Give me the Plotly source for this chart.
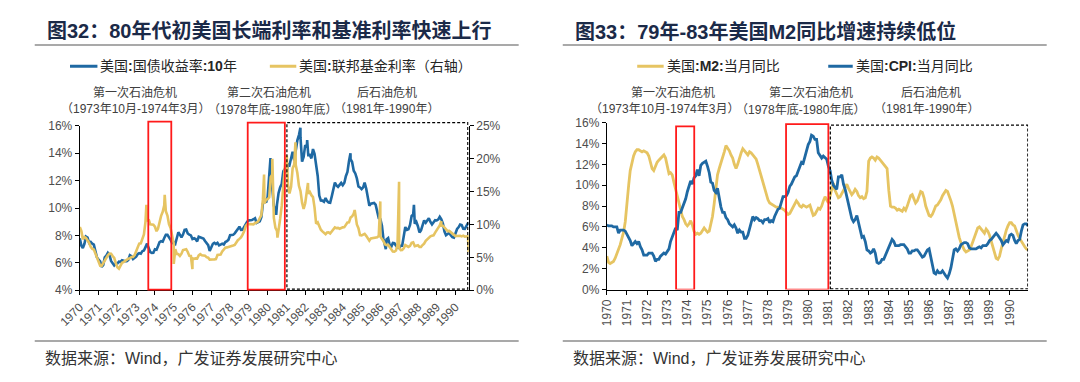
import pandas as pd
import plotly.graph_objects as go

W, H = 1080, 382


def px(x):
    return x / W


def py(y):
    return 1 - y / H


# ---------------- DATA ----------------
# Left chart: monthly values, 1970-01 .. 1990-09
UST10Y = [
    7.79, 7.24, 7.07, 7.39, 7.91, 7.84, 7.46, 7.53, 7.39, 7.33, 6.84, 6.39,
    6.24, 6.11, 5.70, 5.83, 6.39, 6.52, 6.73, 6.58, 6.14, 5.93, 5.81, 5.93,
    5.95, 6.08, 6.07, 6.19, 6.13, 6.11, 6.11, 6.21, 6.55, 6.48, 6.28, 6.36,
    6.46, 6.64, 6.71, 6.67, 6.85, 6.90, 7.13, 7.40, 7.09, 6.79, 6.73, 6.74,
    6.99, 6.96, 7.21, 7.51, 7.58, 7.54, 7.81, 8.04, 8.04, 7.90, 7.68, 7.43,
    7.50, 7.39, 7.73, 8.23, 8.06, 7.86, 8.06, 8.40, 8.43, 8.14, 8.05, 8.00,
    7.74, 7.79, 7.73, 7.56, 7.90, 7.86, 7.83, 7.77, 7.59, 7.41, 7.29, 6.87,
    7.21, 7.39, 7.46, 7.37, 7.46, 7.28, 7.33, 7.40, 7.34, 7.52, 7.58, 7.69,
    8.01, 8.03, 8.04, 8.15, 8.35, 8.46, 8.64, 8.41, 8.42, 8.64, 8.81, 9.01,
    9.10, 9.10, 9.12, 9.18, 9.25, 8.91, 8.95, 9.03, 9.33, 10.30, 10.65, 10.39,
    10.80, 12.41, 12.75, 11.47, 10.18, 9.78, 10.25, 11.10, 11.51, 11.75, 12.68, 12.84,
    12.57, 13.19, 13.12, 13.68, 14.10, 13.47, 14.28, 14.94, 15.32, 15.15, 13.39, 13.72,
    14.59, 14.43, 13.86, 13.87, 13.62, 14.30, 13.95, 13.06, 12.34, 10.91, 10.55, 10.54,
    10.46, 10.72, 10.51, 10.40, 10.38, 10.85, 11.38, 11.85, 11.65, 11.54, 11.69, 11.83,
    11.67, 11.84, 12.32, 12.63, 13.41, 13.56, 13.36, 12.72, 12.52, 12.16, 11.57, 11.50,
    11.38, 11.51, 11.86, 11.43, 10.85, 10.16, 10.31, 10.33, 10.37, 10.24, 9.78, 9.26,
    9.19, 8.70, 7.78, 7.30, 7.71, 7.80, 7.30, 7.17, 7.45, 7.43, 7.25, 7.11,
    7.08, 7.25, 7.25, 8.02, 8.61, 8.40, 8.45, 8.76, 9.42, 9.52, 8.86, 8.99,
    8.67, 8.21, 8.37, 8.72, 9.09, 8.92, 9.06, 9.26, 8.98, 8.80, 8.96, 9.11,
    9.09, 9.17, 9.36, 9.18, 8.86, 8.28, 8.02, 8.11, 8.19, 8.01, 7.87, 7.84,
    8.21, 8.47, 8.59, 8.79, 8.76, 8.48, 8.47, 8.75, 8.89,
]
UST10Y_EXTRA_DATES = ["1980-02-26", "1980-06-16", "1981-09-30", "1982-02-08",
                      "1984-05-30", "1986-04-17", "1987-10-16", "1990-09-14"]
UST10Y_EXTRA_VALUES = [13.65, 9.5, 15.85, 14.95, 13.99, 7.0, 10.23, 8.9]

FEDFUNDS = [
    9.6, 8.98, 7.76, 8.10, 7.95, 7.61, 7.21, 6.61, 6.29, 6.20, 5.60, 4.90,
    4.14, 3.72, 3.71, 4.16, 4.63, 4.91, 5.31, 5.56, 5.55, 5.20, 4.91, 4.14,
    3.50, 3.29, 3.83, 4.17, 4.27, 4.46, 4.55, 4.80, 4.87, 5.04, 5.06, 5.33,
    5.94, 6.58, 7.09, 7.12, 7.84, 8.49, 10.40, 10.50, 10.78, 10.01, 10.03, 9.95,
    9.65, 8.97, 9.35, 10.51, 11.31, 11.93, 12.92, 12.01, 11.34, 10.06, 9.45, 8.53,
    7.13, 6.24, 5.54, 5.49, 5.22, 5.55, 6.10, 6.14, 6.24, 5.82, 5.22, 5.20,
    4.87, 4.77, 4.84, 4.82, 5.29, 5.48, 5.31, 5.29, 5.25, 5.02, 4.95, 4.65,
    4.61, 4.68, 4.69, 4.73, 5.35, 5.39, 5.42, 5.90, 6.14, 6.47, 6.51, 6.56,
    6.70, 6.78, 6.79, 6.89, 7.36, 7.60, 7.81, 8.04, 8.45, 8.96, 9.76, 10.03,
    10.07, 10.06, 10.09, 10.01, 10.24, 10.29, 10.47, 10.94, 11.43, 13.77, 13.18, 13.78,
    13.82, 14.13, 17.19, 17.61, 10.98, 9.47, 9.03, 9.61, 10.87, 12.81, 15.85, 18.90,
    19.08, 15.93, 14.70, 15.72, 18.52, 19.10, 19.04, 17.82, 15.87, 15.08, 13.31, 12.37,
    13.22, 14.78, 14.68, 14.94, 14.45, 14.15, 12.59, 10.12, 10.31, 9.71, 9.20, 8.95,
    8.68, 8.51, 8.77, 8.80, 8.63, 8.98, 9.37, 9.56, 9.45, 9.48, 9.34, 9.47,
    9.56, 9.59, 9.91, 10.29, 10.32, 11.06, 11.23, 11.64, 11.30, 9.99, 9.43, 8.38,
    8.35, 8.50, 8.58, 8.27, 7.97, 7.53, 7.88, 7.90, 7.92, 7.99, 8.05, 8.27,
    8.14, 7.86, 7.48, 6.99, 6.85, 6.92, 6.56, 6.17, 5.89, 5.85, 6.04, 6.91,
    6.43, 6.10, 6.13, 6.37, 6.85, 6.73, 6.58, 6.73, 7.22, 7.29, 6.69, 6.77,
    6.83, 6.58, 6.58, 6.87, 7.09, 7.51, 7.75, 8.01, 8.19, 8.30, 8.35, 8.76,
    9.12, 9.36, 9.85, 9.84, 9.81, 9.53, 9.24, 8.99, 9.02, 8.84, 8.55, 8.45,
    8.23, 8.24, 8.28, 8.26, 8.18, 8.29, 8.15, 8.13, 8.20,
]
FF_EXTRA_DATES = ["1973-07-19", "1974-07-10", "1975-01-02", "1975-12-31",
                  "1979-10-24", "1980-04-02", "1980-07-10", "1980-12-10",
                  "1981-01-07", "1981-06-25", "1982-02-24", "1984-08-20",
                  "1985-12-31", "1986-12-31", "1989-03-31", "1990-09-14"]
FF_EXTRA_VALUES = [13.0, 14.5, 4.0, 3.2, 17.6, 20.0, 8.0, 19.6,
                   20.5, 22.5, 16.3, 12.2, 13.5, 16.5, 10.5, 5.8]

# Right chart: monthly YoY, 1970-01 .. 1990-12
M2_YOY = [
    3.2, 2.6, 2.5, 2.6, 2.7, 3.0, 3.4, 3.8, 4.3, 4.9, 5.5, 6.5,
    8.5, 10.0, 11.4, 12.3, 12.8, 13.2, 13.4, 13.4, 13.3, 13.2, 13.3, 13.2,
    13.1, 12.8, 12.2, 11.6, 11.4, 11.8, 12.2, 12.4, 12.6, 12.8, 12.9, 12.6,
    11.8, 11.1, 11.2, 11.0, 10.3, 9.6, 8.9, 8.2, 7.6, 7.0, 6.7, 6.3,
    6.1, 6.3, 6.6, 6.2, 5.6, 5.3, 5.4, 5.3, 5.4, 5.6, 5.9, 5.7,
    5.5, 5.6, 6.2, 7.0, 8.2, 9.8, 11.0, 11.6, 12.1, 12.5, 13.2, 13.8,
    13.6, 13.3, 12.9, 12.6, 12.0, 11.6, 12.0, 12.7, 13.1, 13.5, 13.3, 13.0,
    12.9, 13.2, 13.1, 12.9, 12.7, 12.5, 12.0, 11.4, 10.8, 10.2, 9.6, 9.0,
    8.6, 8.3, 8.2, 8.1, 8.0, 7.9, 7.9, 7.8, 7.8, 7.7, 7.6, 7.4,
    7.2, 7.3, 7.6, 7.9, 8.2, 8.5, 8.3, 8.0, 7.9, 8.1, 8.0, 7.9,
    8.0, 8.1, 7.6, 7.1, 7.2, 7.5, 7.8, 7.7, 8.0, 8.5, 8.9, 8.6,
    8.3, 9.0, 9.7, 10.2, 9.5, 9.2, 8.8, 8.9, 9.2, 9.4, 9.8, 10.1,
    9.7, 9.4, 9.1, 9.3, 9.6, 9.4, 9.0, 8.8, 8.9, 8.7, 8.8, 9.4,
    12.3, 12.6, 12.7, 12.6, 12.4, 12.7, 12.6, 12.4, 12.2, 12.0, 11.9, 11.6,
    9.5, 8.0, 7.9, 7.9, 7.8, 7.6, 7.7, 7.6, 7.5, 7.8, 7.6, 8.0,
    8.6, 9.0, 9.1, 8.6, 8.3, 8.5, 9.0, 9.4, 9.3, 8.8, 8.0, 7.5,
    7.1, 7.0, 7.2, 7.6, 8.0, 8.1, 8.3, 8.6, 9.0, 9.3, 9.5, 9.4,
    9.0, 8.5, 8.0, 7.2, 6.4, 5.8, 5.0, 4.5, 4.1, 3.8, 3.6, 3.7,
    3.8, 4.1, 4.5, 5.0, 5.5, 5.9, 6.0, 5.8, 5.5, 5.4, 5.8, 5.6,
    5.2, 4.6, 4.0, 3.4, 3.0, 2.9, 3.2, 3.9, 4.6, 5.2, 5.7, 6.1,
    6.4, 6.4, 6.2, 6.1, 5.6, 5.2, 4.9, 4.6, 4.4, 4.1, 3.9, 3.8,
]
CPI_YOY = [
    6.2, 6.1, 6.1, 6.1, 6.0, 6.0, 6.0, 5.4, 5.7, 5.7, 5.7, 5.6,
    5.3, 5.0, 4.7, 4.2, 4.4, 4.6, 4.4, 4.6, 4.1, 3.8, 3.3, 3.3,
    3.3, 3.5, 3.5, 3.5, 3.2, 2.7, 2.9, 2.9, 3.2, 3.4, 3.5, 3.4,
    3.6, 3.9, 4.6, 5.1, 5.5, 5.9, 5.7, 7.4, 7.4, 7.8, 8.3, 8.7,
    9.4, 10.0, 10.4, 10.1, 10.7, 10.9, 11.5, 10.9, 11.9, 12.1, 12.2, 12.3,
    11.8, 11.2, 10.3, 10.2, 9.5, 9.3, 9.7, 8.6, 7.9, 7.4, 7.4, 6.9,
    6.7, 6.3, 6.1, 6.0, 6.2, 5.9, 5.4, 5.7, 5.5, 5.5, 4.9, 4.9,
    5.2, 5.9, 6.4, 7.0, 6.7, 6.9, 6.8, 6.6, 6.6, 6.4, 6.7, 6.7,
    6.8, 6.4, 6.6, 6.5, 7.0, 7.4, 7.7, 7.8, 8.3, 8.9, 8.9, 9.0,
    9.3, 9.9, 10.1, 10.5, 10.8, 10.9, 11.3, 11.8, 12.2, 12.1, 12.6, 13.3,
    13.9, 14.2, 14.8, 14.7, 14.4, 14.4, 13.1, 12.9, 12.6, 12.8, 12.6, 12.5,
    11.8, 11.4, 10.5, 10.0, 9.8, 9.6, 10.8, 10.8, 11.0, 10.1, 9.6, 8.9,
    8.4, 7.6, 6.8, 6.5, 6.7, 7.1, 6.4, 5.9, 5.0, 5.1, 4.6, 3.8,
    3.7, 3.5, 3.6, 3.9, 3.5, 2.6, 2.5, 2.6, 2.9, 2.9, 3.3, 3.8,
    4.2, 4.6, 4.8, 4.6, 4.2, 4.2, 4.2, 4.3, 4.3, 4.3, 4.1, 3.9,
    3.5, 3.5, 3.7, 3.7, 3.8, 3.8, 3.6, 3.3, 3.1, 3.2, 3.5, 3.8,
    3.9, 3.1, 2.2, 1.6, 1.5, 1.8, 1.6, 1.6, 1.8, 1.5, 1.3, 1.1,
    1.5, 2.1, 3.0, 3.8, 3.9, 3.7, 3.9, 4.3, 4.4, 4.5, 4.5, 4.4,
    4.0, 3.9, 3.9, 3.9, 3.9, 4.0, 4.1, 4.0, 4.2, 4.2, 4.2, 4.4,
    4.7, 4.8, 5.0, 5.1, 5.4, 5.2, 5.0, 4.7, 4.3, 4.5, 4.7, 4.6,
    5.2, 5.3, 5.2, 4.7, 4.4, 4.7, 4.8, 5.6, 6.2, 6.3, 6.3, 6.1,
]

TITLE_L = "图32：80年代初美国长端利率和基准利率快速上行"
TITLE_R = "图33：79年-83年美国M2同比增速持续低位"
SOURCE = "数据来源：Wind，广发证券发展研究中心"
LEG_L = ["美国<b>:</b>国债收益率<b>:10</b>年", "美国<b>:</b>联邦基金利率（右轴）"]
LEG_R = ["美国<b>:M2:</b>当月同比", "美国<b>:CPI:</b>当月同比"]
PERIOD_NAMES = ["第一次石油危机", "第二次石油危机", "后石油危机"]
PERIOD_RANGES = ["（1973年10月-1974年3月）", "（1978年底-1980年底）", "（1981年-1990年）"]

# ---------------- STYLE ----------------
BLUE = "#1f69a3"
GOLD = "#e6c462"
RED = "#ff1a1a"
FONT = "Liberation Sans, Arial, Noto Sans CJK SC, sans-serif"
CJK = "Liberation Sans, Noto Sans CJK SC, sans-serif"
TICKC = "#4d4d4d"


def merged(dates, vals, xd, xv):
    s = pd.Series(vals, index=dates)
    e = pd.Series(xv, index=pd.to_datetime(xd))
    return pd.concat([s, e]).sort_index()


ldates = pd.date_range("1970-01-01", periods=len(UST10Y), freq="MS")
ust = merged(ldates, UST10Y, UST10Y_EXTRA_DATES, UST10Y_EXTRA_VALUES)
ff = merged(ldates, FEDFUNDS, FF_EXTRA_DATES, FF_EXTRA_VALUES)
rdates = pd.date_range("1970-01-01", periods=len(M2_YOY), freq="MS")

fig = go.Figure()
fig.add_trace(go.Scatter(x=ust.index, y=ust.values, mode="lines", name=LEG_L[0],
                         line=dict(color=BLUE, width=2.6), xaxis="x", yaxis="y", showlegend=False))
fig.add_trace(go.Scatter(x=ff.index, y=ff.values, mode="lines", name=LEG_L[1],
                         line=dict(color=GOLD, width=2.6), xaxis="x", yaxis="y2", showlegend=False))
fig.add_trace(go.Scatter(x=rdates, y=M2_YOY, mode="lines", name=LEG_R[0],
                         line=dict(color=GOLD, width=2.8), xaxis="x2", yaxis="y3", showlegend=False))
fig.add_trace(go.Scatter(x=rdates, y=CPI_YOY, mode="lines", name=LEG_R[1],
                         line=dict(color=BLUE, width=2.8), xaxis="x2", yaxis="y3", showlegend=False))

tickfont = dict(family=FONT, size=12, color=TICKC)
axis_common = dict(showline=True, linecolor="black", linewidth=1.2, ticks="outside",
                   ticklen=4, tickwidth=1.2, tickcolor="black", showgrid=False,
                   zeroline=False, fixedrange=True)

L_TOP, L_BOT = 123.3, 294
R_TOP, R_BOT = 120, 293.3

fig.update_layout(
    width=W, height=H, margin=dict(l=0, r=0, t=0, b=0),
    paper_bgcolor="white", plot_bgcolor="white", showlegend=False,
    xaxis=dict(domain=[px(59), px(456)], anchor="y", type="date",
               range=["1970-01-01", "1990-09-15"], tick0="1970-01-01", dtick="M12",
               tickformat="%Y", tickangle=-45, tickfont=tickfont, **axis_common),
    yaxis=dict(domain=[py(L_BOT), py(L_TOP)], anchor="x", range=[4, 16], dtick=2,
               ticksuffix="%", tickfont=tickfont, **axis_common),
    yaxis2=dict(overlaying="y", side="right", anchor="x", range=[0, 25], dtick=5,
                ticksuffix="%", tickfont=tickfont, **axis_common),
    xaxis2=dict(domain=[px(597), px(1027)], anchor="y3", type="date",
                range=["1970-01-01", "1990-12-01"], tick0="1970-01-01", dtick="M12",
                tickformat="%Y", tickangle=-90, tickfont=tickfont, **axis_common),
    yaxis3=dict(domain=[py(R_BOT), py(R_TOP)], anchor="x2", range=[0, 16], dtick=2,
                ticksuffix="%", tickfont=tickfont, **axis_common),
)


def ly(v):  # left-axis value -> paper y
    return py(L_BOT - (v - 4) * (L_BOT - L_TOP) / 12)


shapes = []
# left chart boxes
shapes.append(dict(type="rect", xref="x", yref="paper", x0="1973-08-25", x1="1974-11-15",
                   y0=ly(4.05), y1=ly(16.3), line=dict(color=RED, width=1.8)))
shapes.append(dict(type="rect", xref="x", yref="paper", x0="1978-12-10", x1="1980-12-01",
                   y0=ly(4.05), y1=ly(16.23), line=dict(color=RED, width=1.8)))
shapes.append(dict(type="rect", xref="x", yref="paper", x0="1981-01-10", x1="1990-08-28",
                   y0=ly(4.08), y1=ly(16.23), line=dict(color="black", width=1.2, dash="3px,2px")))
# right chart boxes
shapes.append(dict(type="rect", xref="x2", yref="y3", x0="1973-06-10", x1="1974-05-05",
                   y0=0, y1=15.63, line=dict(color=RED, width=1.8)))
shapes.append(dict(type="rect", xref="x2", yref="y3", x0="1978-11-25", x1="1980-12-31",
                   y0=0, y1=15.85, line=dict(color=RED, width=1.8)))
shapes.append(dict(type="rect", xref="x2", yref="y3", x0="1981-02-05", x1="1990-11-26",
                   y0=0.06, y1=15.75, line=dict(color="black", width=1.2, dash="3px,2px")))
# header / footer rules
for x0, x1 in [(13, 507), (552, 1046)]:
    shapes.append(dict(type="line", xref="paper", yref="paper", x0=px(x0), x1=px(x1),
                       y0=py(39.5), y1=py(39.5), line=dict(color="#8c8c8c", width=1.5)))
    shapes.append(dict(type="line", xref="paper", yref="paper", x0=px(x0), x1=px(x1),
                       y0=py(346.7), y1=py(346.7), line=dict(color="#8c8c8c", width=1.5)))
# legend samples
for (x0, x1, c) in [(49, 77, BLUE), (253, 280, GOLD), (628, 655, GOLD), (823, 848, BLUE)]:
    shapes.append(dict(type="line", xref="paper", yref="paper", x0=px(x0), x1=px(x1),
                       y0=py(61.5), y1=py(61.5), line=dict(color=c, width=3)))
fig.update_layout(shapes=shapes)

ann = []


def text(x, y, s, size, color="#333333", anchor="left"):
    ann.append(dict(xref="paper", yref="paper", x=px(x), y=py(y), text=s, showarrow=False,
                    xanchor=anchor, yanchor="middle", font=dict(family=CJK, size=size, color=color)))


text(23, 25, "<b>" + TITLE_L + "</b>", 20, "#1b2a48")
text(562, 25, "<b>" + TITLE_R + "</b>", 20, "#1b2a48")
text(21, 365, SOURCE, 16, "#333333")
text(560, 365, SOURCE, 16, "#333333")
text(78, 61.5, LEG_L[0], 14, "#262626")
text(281, 61.5, LEG_L[1], 14, "#262626")
text(656, 61.5, LEG_R[0], 14, "#262626")
text(849, 61.5, LEG_R[1], 14, "#262626")
for cx, cx2, i in [(115, 116, 0), (252, 256, 1), (372.5, 372, 2)]:
    text(cx, 89, PERIOD_NAMES[i], 12, "#404040", "center")
    text(cx2, 106, PERIOD_RANGES[i], 12, "#404040", "center")
for cx, cx2, i in [(665, 656, 0), (805, 795, 1), (927.5, 923, 2)]:
    text(cx, 89, PERIOD_NAMES[i], 12, "#404040", "center")
    text(cx2, 106, PERIOD_RANGES[i], 12, "#404040", "center")
fig.update_layout(annotations=ann)

fig.write_html("out.html", config={"displayModeBar": False},
               post_script="document.body.style.margin='0';"
               "document.documentElement.style.overflow='hidden';")
